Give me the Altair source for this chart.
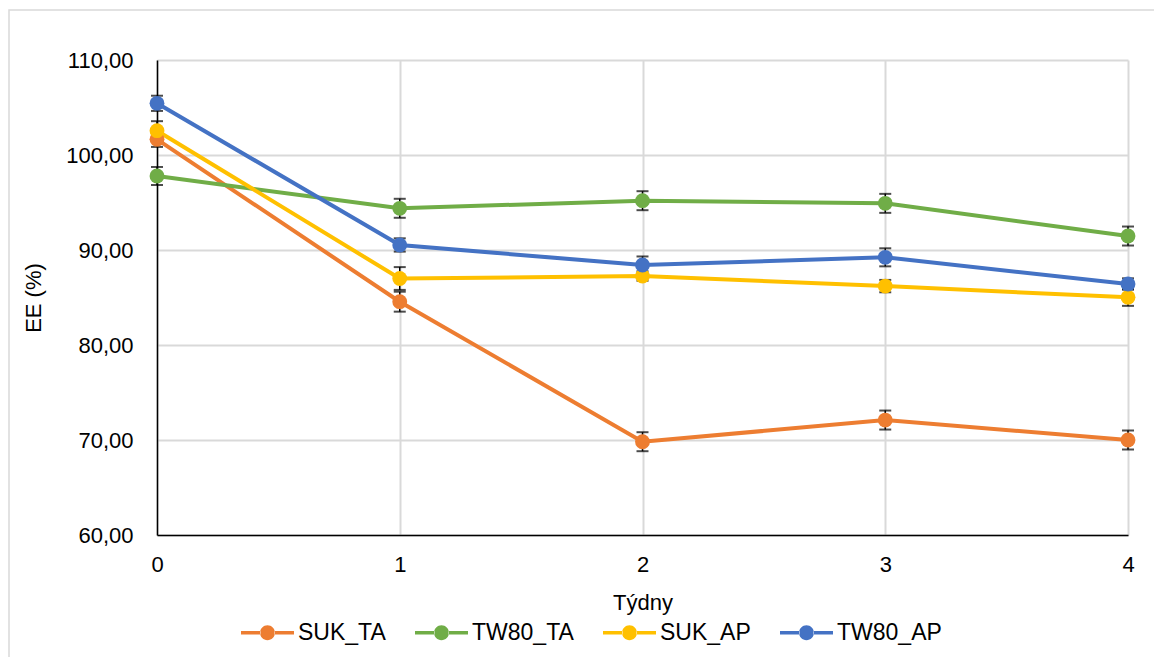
import altair as alt
import pandas as pd

# Weeks of storage and entrapment efficiency (EE, %) per formulation
weeks = [0, 1, 2, 3, 4]
series_names = ["SUK_TA", "TW80_TA", "SUK_AP", "TW80_AP"]
series_colors = ["#ED7D31", "#70AD47", "#FFC000", "#4472C4"]

suk_ta = [101.65, 84.56, 69.82, 72.10, 70.00]
tw80_ta = [97.79, 94.39, 95.19, 94.91, 91.47]
suk_ap = [102.56, 87.00, 87.26, 86.20, 85.02]
tw80_ap = [105.44, 90.53, 88.42, 89.23, 86.42]

suk_ta_err = [0.8, 1.05, 1.0, 1.0, 1.0]
tw80_ta_err = [0.95, 1.0, 1.0, 1.0, 1.0]
suk_ap_err = [1.0, 1.2, 0.5, 0.65, 0.9]
tw80_ap_err = [0.8, 0.7, 0.9, 0.95, 0.6]

y_ticks = [60, 70, 80, 90, 100, 110]

values = [suk_ta, tw80_ta, suk_ap, tw80_ap]
errors = [suk_ta_err, tw80_ta_err, suk_ap_err, tw80_ap_err]

rows = []
for name, vals, errs in zip(series_names, values, errors):
    for w, v, e in zip(weeks, vals, errs):
        rows.append({"series": name, "week": w, "ee": v, "lo": v - e, "hi": v + e})
df = pd.DataFrame(rows)

FONT = "Liberation Sans"
W, H = 1154, 657
PLOT_W, PLOT_H = 971, 475
LEFT, TOP = 157, 60

x_enc = alt.X(
    "week:Q",
    scale=alt.Scale(domain=[0, 4], nice=False),
    axis=alt.Axis(values=weeks, title="Týdny", format="d", titlePadding=17, labelFlush=False),
)
y_scale = alt.Scale(domain=[60, 110], nice=False)
y_axis = alt.Axis(
    values=y_ticks,
    title="EE (%)",
    labelExpr="replace(format(datum.value, '.2f'), '.', ',')",
    titlePadding=20,
)

# filled legend glyph: a thin bar on each side of a dot (line-with-marker look)
glyph = (
    "M-1,-0.066H-0.26V0.066H-1Z"
    "M0.26,-0.066H1V0.066H0.26Z"
    "M-0.28,0A0.28,0.28,0,1,0,0.28,0A0.28,0.28,0,1,0,-0.28,0Z"
)

frame = (
    alt.Chart(pd.DataFrame({"k": [0]}))
    .mark_rect(filled=False, stroke="#D9D9D9", strokeWidth=1.5)
    .encode(
        x=alt.value(9 - LEFT),
        x2=alt.value(W - LEFT + 20),
        y=alt.value(10 - TOP),
        y2=alt.value(H - TOP + 20),
    )
)

lines = (
    alt.Chart(df)
    .mark_line(strokeWidth=4)
    .encode(
        x=x_enc,
        y=alt.Y("ee:Q", scale=y_scale, axis=y_axis),
        color=alt.Color(
            "series:N",
            scale=alt.Scale(domain=series_names, range=series_colors),
            sort=series_names,
            legend=None,
        ),
        detail="series:N",
    )
)

bars = (
    alt.Chart(df)
    .mark_rule(color="black", strokeWidth=1.5)
    .encode(x="week:Q", y="lo:Q", y2="hi:Q")
)
caps_lo = (
    alt.Chart(df)
    .mark_tick(orient="horizontal", size=12, thickness=2, color="black")
    .encode(x="week:Q", y="lo:Q")
)
caps_hi = (
    alt.Chart(df)
    .mark_tick(orient="horizontal", size=12, thickness=2, color="black")
    .encode(x="week:Q", y="hi:Q")
)

points = (
    alt.Chart(df)
    .mark_point(filled=True, size=220, opacity=1, strokeWidth=0)
    .encode(
        x="week:Q",
        y="ee:Q",
        fill=alt.Fill(
            "series:N",
            scale=alt.Scale(domain=series_names, range=series_colors),
            sort=series_names,
            legend=alt.Legend(
                title=None,
                orient="none",
                legendX=84,
                legendY=546,
                direction="horizontal",
                columns=4,
                columnPadding=29,
                symbolType=glyph,
                symbolSize=2809,
                symbolStrokeWidth=0,
                labelFontSize=23,
                labelOffset=4,
                labelFont=FONT,
                labelColor="#000000",
            ),
        ),
    )
)

chart = (
    alt.layer(frame, lines, bars, caps_lo, caps_hi, points)
    .resolve_legend(color="independent", fill="independent")
    .properties(
        width=PLOT_W,
        height=PLOT_H,
        autosize=alt.AutoSizeParams(type="none"),
        padding={
            "left": LEFT,
            "top": TOP,
            "right": W - LEFT - PLOT_W,
            "bottom": H - TOP - PLOT_H,
        },
    )
    .configure_view(stroke=None)
    .configure_axis(
        domainColor="#000000",
        domainWidth=1.5,
        gridColor="#D9D9D9",
        gridWidth=2,
        ticks=False,
        labelFont=FONT,
        labelFontSize=22,
        labelColor="#000000",
        titleFont=FONT,
        titleFontSize=22,
        titleFontWeight="normal",
        titleColor="#000000",
    )
    .configure_axisX(labelPadding=19)
    .configure_axisY(labelPadding=24)
)

chart.save("out.html", embed_options={"renderer": "svg", "actions": False})
